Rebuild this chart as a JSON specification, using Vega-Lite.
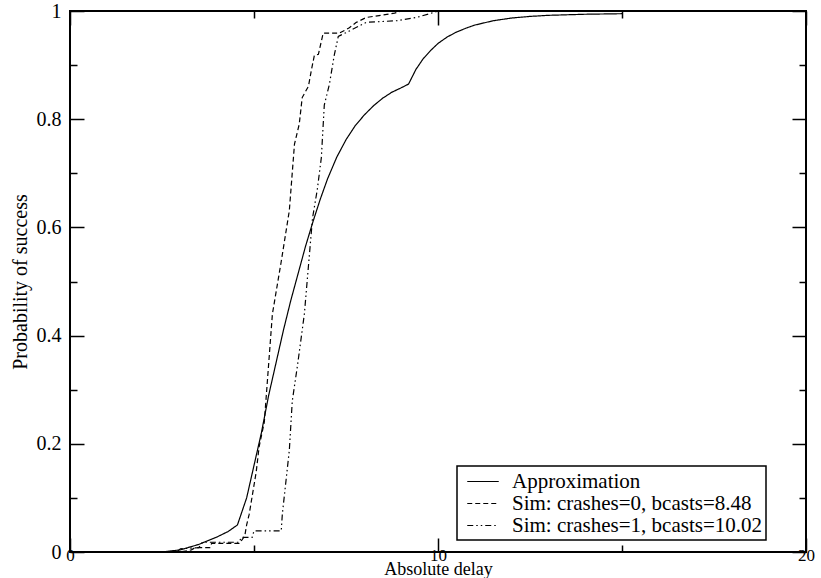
{
  "$schema": "https://vega.github.io/schema/vega-lite/v6.json",
  "width": 736,
  "height": 541,
  "autosize": {"type": "none"},
  "padding": {"left": 70, "top": 11, "right": 15, "bottom": 26},
  "background": "white",
  "config": {
    "view": {"stroke": "black", "strokeWidth": 2},
    "font": "Liberation Serif",
    "legend": {"strokeWidth": 1.5},
    "axis": {"grid": false, "domain": false, "labelFont": "Liberation Serif", "titleFont": "Liberation Serif", "labelColor": "black", "titleColor": "black", "tickColor": "black", "tickWidth": 1.5, "titleFontWeight": "normal"}
  },
  "data": {"values": [
    {"x":0,"y":0,"s":"Approximation"},{"x":2.5,"y":0,"s":"Approximation"},{"x":3.0,"y":0.004,"s":"Approximation"},{"x":3.5,"y":0.014,"s":"Approximation"},{"x":4.0,"y":0.028,"s":"Approximation"},{"x":4.3,"y":0.038,"s":"Approximation"},{"x":4.55,"y":0.05,"s":"Approximation"},{"x":4.8,"y":0.1,"s":"Approximation"},{"x":5.0,"y":0.16,"s":"Approximation"},{"x":5.2,"y":0.22,"s":"Approximation"},{"x":5.4,"y":0.29,"s":"Approximation"},{"x":5.6,"y":0.35,"s":"Approximation"},{"x":5.8,"y":0.41,"s":"Approximation"},{"x":6.0,"y":0.465,"s":"Approximation"},{"x":6.2,"y":0.515,"s":"Approximation"},{"x":6.4,"y":0.565,"s":"Approximation"},{"x":6.6,"y":0.61,"s":"Approximation"},{"x":6.8,"y":0.652,"s":"Approximation"},{"x":7.0,"y":0.69,"s":"Approximation"},{"x":7.25,"y":0.73,"s":"Approximation"},{"x":7.5,"y":0.762,"s":"Approximation"},{"x":7.75,"y":0.788,"s":"Approximation"},{"x":8.0,"y":0.808,"s":"Approximation"},{"x":8.25,"y":0.825,"s":"Approximation"},{"x":8.5,"y":0.839,"s":"Approximation"},{"x":8.75,"y":0.85,"s":"Approximation"},{"x":9.0,"y":0.858,"s":"Approximation"},{"x":9.2,"y":0.865,"s":"Approximation"},{"x":9.4,"y":0.892,"s":"Approximation"},{"x":9.6,"y":0.912,"s":"Approximation"},{"x":9.8,"y":0.927,"s":"Approximation"},{"x":10.0,"y":0.94,"s":"Approximation"},{"x":10.25,"y":0.952,"s":"Approximation"},{"x":10.5,"y":0.961,"s":"Approximation"},{"x":10.75,"y":0.968,"s":"Approximation"},{"x":11.0,"y":0.974,"s":"Approximation"},{"x":11.5,"y":0.982,"s":"Approximation"},{"x":12.0,"y":0.987,"s":"Approximation"},{"x":12.5,"y":0.99,"s":"Approximation"},{"x":13.0,"y":0.992,"s":"Approximation"},{"x":14.0,"y":0.994,"s":"Approximation"},{"x":15.0,"y":0.995,"s":"Approximation"},
    {"x":0,"y":0,"s":"Sim: crashes=0, bcasts=8.48"},{"x":3.0,"y":0,"s":"Sim: crashes=0, bcasts=8.48"},{"x":3.3,"y":0.004,"s":"Sim: crashes=0, bcasts=8.48"},{"x":3.4,"y":0.008,"s":"Sim: crashes=0, bcasts=8.48"},{"x":3.8,"y":0.008,"s":"Sim: crashes=0, bcasts=8.48"},{"x":3.85,"y":0.016,"s":"Sim: crashes=0, bcasts=8.48"},{"x":4.6,"y":0.016,"s":"Sim: crashes=0, bcasts=8.48"},{"x":4.65,"y":0.02,"s":"Sim: crashes=0, bcasts=8.48"},{"x":4.75,"y":0.03,"s":"Sim: crashes=0, bcasts=8.48"},{"x":4.8,"y":0.05,"s":"Sim: crashes=0, bcasts=8.48"},{"x":4.87,"y":0.07,"s":"Sim: crashes=0, bcasts=8.48"},{"x":5.06,"y":0.148,"s":"Sim: crashes=0, bcasts=8.48"},{"x":5.14,"y":0.195,"s":"Sim: crashes=0, bcasts=8.48"},{"x":5.28,"y":0.24,"s":"Sim: crashes=0, bcasts=8.48"},{"x":5.5,"y":0.44,"s":"Sim: crashes=0, bcasts=8.48"},{"x":5.74,"y":0.537,"s":"Sim: crashes=0, bcasts=8.48"},{"x":5.96,"y":0.631,"s":"Sim: crashes=0, bcasts=8.48"},{"x":6.1,"y":0.754,"s":"Sim: crashes=0, bcasts=8.48"},{"x":6.23,"y":0.791,"s":"Sim: crashes=0, bcasts=8.48"},{"x":6.31,"y":0.84,"s":"Sim: crashes=0, bcasts=8.48"},{"x":6.48,"y":0.861,"s":"Sim: crashes=0, bcasts=8.48"},{"x":6.56,"y":0.891,"s":"Sim: crashes=0, bcasts=8.48"},{"x":6.64,"y":0.918,"s":"Sim: crashes=0, bcasts=8.48"},{"x":6.75,"y":0.92,"s":"Sim: crashes=0, bcasts=8.48"},{"x":6.88,"y":0.959,"s":"Sim: crashes=0, bcasts=8.48"},{"x":7.32,"y":0.959,"s":"Sim: crashes=0, bcasts=8.48"},{"x":7.59,"y":0.969,"s":"Sim: crashes=0, bcasts=8.48"},{"x":7.78,"y":0.979,"s":"Sim: crashes=0, bcasts=8.48"},{"x":8.05,"y":0.988,"s":"Sim: crashes=0, bcasts=8.48"},{"x":8.82,"y":0.996,"s":"Sim: crashes=0, bcasts=8.48"},{"x":9.0,"y":1,"s":"Sim: crashes=0, bcasts=8.48"},{"x":20,"y":1,"s":"Sim: crashes=0, bcasts=8.48"},
    {"x":0,"y":0,"s":"Sim: crashes=1, bcasts=10.02"},{"x":2.9,"y":0,"s":"Sim: crashes=1, bcasts=10.02"},{"x":3.0,"y":0.006,"s":"Sim: crashes=1, bcasts=10.02"},{"x":3.5,"y":0.008,"s":"Sim: crashes=1, bcasts=10.02"},{"x":3.6,"y":0.018,"s":"Sim: crashes=1, bcasts=10.02"},{"x":4.6,"y":0.018,"s":"Sim: crashes=1, bcasts=10.02"},{"x":4.65,"y":0.027,"s":"Sim: crashes=1, bcasts=10.02"},{"x":4.95,"y":0.027,"s":"Sim: crashes=1, bcasts=10.02"},{"x":5.0,"y":0.039,"s":"Sim: crashes=1, bcasts=10.02"},{"x":5.74,"y":0.039,"s":"Sim: crashes=1, bcasts=10.02"},{"x":5.77,"y":0.07,"s":"Sim: crashes=1, bcasts=10.02"},{"x":5.96,"y":0.188,"s":"Sim: crashes=1, bcasts=10.02"},{"x":6.04,"y":0.279,"s":"Sim: crashes=1, bcasts=10.02"},{"x":6.18,"y":0.344,"s":"Sim: crashes=1, bcasts=10.02"},{"x":6.31,"y":0.41,"s":"Sim: crashes=1, bcasts=10.02"},{"x":6.37,"y":0.441,"s":"Sim: crashes=1, bcasts=10.02"},{"x":6.59,"y":0.617,"s":"Sim: crashes=1, bcasts=10.02"},{"x":6.72,"y":0.67,"s":"Sim: crashes=1, bcasts=10.02"},{"x":6.83,"y":0.729,"s":"Sim: crashes=1, bcasts=10.02"},{"x":6.91,"y":0.826,"s":"Sim: crashes=1, bcasts=10.02"},{"x":7.05,"y":0.865,"s":"Sim: crashes=1, bcasts=10.02"},{"x":7.18,"y":0.918,"s":"Sim: crashes=1, bcasts=10.02"},{"x":7.29,"y":0.953,"s":"Sim: crashes=1, bcasts=10.02"},{"x":7.59,"y":0.963,"s":"Sim: crashes=1, bcasts=10.02"},{"x":8.05,"y":0.979,"s":"Sim: crashes=1, bcasts=10.02"},{"x":8.87,"y":0.982,"s":"Sim: crashes=1, bcasts=10.02"},{"x":9.41,"y":0.988,"s":"Sim: crashes=1, bcasts=10.02"},{"x":9.82,"y":0.996,"s":"Sim: crashes=1, bcasts=10.02"},{"x":10.0,"y":1,"s":"Sim: crashes=1, bcasts=10.02"},{"x":20,"y":1,"s":"Sim: crashes=1, bcasts=10.02"}
  ]},
  "resolve": {"axis": {"x": "independent", "y": "independent"}},
  "layer": [
    {
      "mark": {"type": "line", "color": "black", "strokeWidth": 1.2, "clip": true},
      "encoding": {
        "x": {"field": "x", "type": "quantitative", "scale": {"domain": [0, 20], "nice": false, "zero": false},
              "axis": {"orient": "bottom", "values": [0, 10, 20], "ticks": false, "labelPadding": -5, "labelBaseline": "top", "labelFontSize": 17, "title": "Absolute delay", "titleFontSize": 18, "titleBaseline": "alphabetic", "titleY": 22.5, "labelFlush": false}},
        "y": {"field": "y", "type": "quantitative", "scale": {"domain": [0, 1], "nice": false},
              "axis": {"orient": "left", "values": [0, 0.2, 0.4, 0.6, 0.8, 1], "ticks": false, "labelPadding": 9, "labelFontSize": 20, "title": "Probability of success", "titleFontSize": 20, "titlePadding": 6, "labelFlush": false, "labelExpr": "datum.value == 0 ? '0' : datum.value == 1 ? '1' : format(datum.value, '.1f')"}},
        "strokeDash": {"field": "s", "type": "nominal",
              "scale": {"domain": ["Approximation", "Sim: crashes=0, bcasts=8.48", "Sim: crashes=1, bcasts=10.02"], "range": [[1, 0], [5, 3], [6, 3, 1.5, 3, 1.5, 3]]},
              "legend": {"title": null, "orient": "none", "legendX": 387, "legendY": 455, "strokeColor": "black", "fillColor": "white", "padding": 4, "labelFont": "Liberation Serif", "labelFontSize": 21, "labelColor": "black", "symbolType": "M-0.5,0H2.5", "symbolSize": 441, "symbolStrokeColor": "black", "symbolStrokeWidth": 1.2, "labelOffset": 28, "rowPadding": 0, "labelLimit": 400}}
      }
    },
    {
      "mark": {"type": "line", "opacity": 0},
      "encoding": {
        "x": {"field": "x", "type": "quantitative", "axis": {"orient": "bottom", "values": [0, 10, 20], "labels": false, "tickSize": -14, "title": null}},
        "y": {"field": "y", "type": "quantitative", "axis": {"orient": "left", "values": [0, 0.2, 0.4, 0.6, 0.8, 1], "labels": false, "tickSize": -14, "title": null}}
      }
    },
    {
      "mark": {"type": "line", "opacity": 0},
      "encoding": {
        "x": {"field": "x", "type": "quantitative", "axis": {"orient": "bottom", "values": [5, 15], "labels": false, "tickSize": -7, "title": null}},
        "y": {"field": "y", "type": "quantitative", "axis": {"orient": "left", "values": [0.1, 0.3, 0.5, 0.7, 0.9], "labels": false, "tickSize": -7, "title": null}}
      }
    },
    {
      "mark": {"type": "line", "opacity": 0},
      "encoding": {
        "x": {"field": "x", "type": "quantitative", "axis": {"orient": "top", "values": [0, 10, 20], "labels": false, "tickSize": -14, "title": null}},
        "y": {"field": "y", "type": "quantitative", "axis": {"orient": "right", "values": [0, 0.2, 0.4, 0.6, 0.8, 1], "labels": false, "tickSize": -14, "title": null}}
      }
    },
    {
      "mark": {"type": "line", "opacity": 0},
      "encoding": {
        "x": {"field": "x", "type": "quantitative", "axis": {"orient": "top", "values": [5, 15], "labels": false, "tickSize": -7, "title": null}},
        "y": {"field": "y", "type": "quantitative", "axis": {"orient": "right", "values": [0.1, 0.3, 0.5, 0.7, 0.9], "labels": false, "tickSize": -7, "title": null}}
      }
    }
  ]
}
